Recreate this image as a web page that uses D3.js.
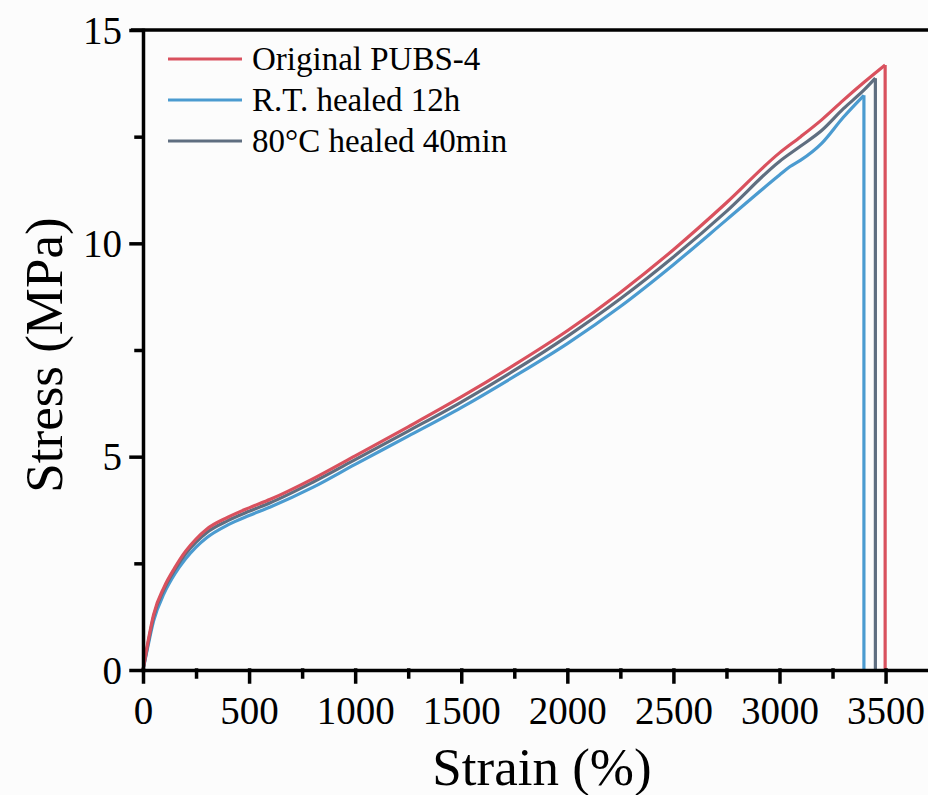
<!DOCTYPE html>
<html>
<head>
<meta charset="utf-8">
<script src="https://cdn.jsdelivr.net/npm/d3@7"></script>
<style>
  body { margin: 0; background: #fcfcfc; }
  svg { display: block; }
  text { font-family: "Liberation Serif", "Times New Roman", serif; fill: #000; }
</style>
</head>
<body>
<div id="chart"></div>
<script>
// Strain (%) sample points
const strainOriginal = [0, 25, 50, 100, 150, 200, 250, 300, 400, 500, 600, 800, 1000, 1250, 1500, 1750, 2000, 2250, 2500, 2750, 3000, 3100, 3200, 3300, 3400, 3498];
const stressOriginal = [0, 0.7, 1.3, 1.95, 2.4, 2.78, 3.07, 3.3, 3.58, 3.8, 4.0, 4.48, 5.02, 5.7, 6.4, 7.15, 7.95, 8.85, 9.85, 10.95, 12.12, 12.5, 12.9, 13.35, 13.78, 14.18];

const strainRT = [0, 25, 50, 100, 150, 200, 250, 300, 400, 500, 600, 800, 1000, 1250, 1500, 1750, 2000, 2250, 2500, 2750, 3000, 3050, 3100, 3200, 3300, 3398];
const stressRT = [0, 0.6, 1.15, 1.8, 2.25, 2.6, 2.88, 3.1, 3.4, 3.62, 3.82, 4.28, 4.82, 5.48, 6.15, 6.88, 7.65, 8.52, 9.5, 10.55, 11.6, 11.8, 11.95, 12.35, 12.95, 13.47];

const strain80C = [0, 25, 50, 100, 150, 200, 250, 300, 400, 500, 600, 800, 1000, 1250, 1500, 1750, 2000, 2250, 2500, 2750, 3000, 3100, 3200, 3300, 3400, 3452];
const stress80C = [0, 0.65, 1.25, 1.9, 2.35, 2.72, 3.0, 3.22, 3.5, 3.72, 3.92, 4.4, 4.93, 5.6, 6.28, 7.02, 7.82, 8.7, 9.68, 10.75, 11.92, 12.28, 12.65, 13.15, 13.6, 13.87];

const seriesNames = ["Original PUBS-4", "R.T. healed 12h", "80\u00B0C healed 40min"];
const seriesColors = ["#d9515e", "#4b9bd0", "#5f6e80"];

const xMajorTicks = [0, 500, 1000, 1500, 2000, 2500, 3000, 3500];
const xMinorTicks = [250, 750, 1250, 1750, 2250, 2750, 3250];
const yMajorTicks = [0, 5, 10, 15];
const yMinorTicks = [2.5, 7.5, 12.5];

const W = 928, H = 795;
const plotLeft = 143, plotRight = 928, plotTop = 30, plotBottom = 670;

const svg = d3.select("#chart").append("svg")
  .attr("width", W)
  .attr("height", H);

const x = d3.scaleLinear().domain([0, 3700]).range([plotLeft, plotRight]);
const y = d3.scaleLinear().domain([0, 15]).range([plotBottom, plotTop]);

// curves
const series = [
  { name: seriesNames[0], color: seriesColors[0], s: strainOriginal, v: stressOriginal },
  { name: seriesNames[1], color: seriesColors[1], s: strainRT, v: stressRT },
  { name: seriesNames[2], color: seriesColors[2], s: strain80C, v: stress80C }
];

const line = d3.line()
  .x(d => x(d[0]))
  .y(d => y(d[1]))
  .curve(d3.curveMonotoneX);

// draw in order so red stays on top like the reference
[1, 2, 0].forEach(i => {
  const sr = series[i];
  const pts = sr.s.map((s, k) => [s, sr.v[k]]);
  svg.append("path")
    .datum(pts)
    .attr("fill", "none")
    .attr("stroke", sr.color)
    .attr("stroke-width", 3.2)
    .attr("stroke-linejoin", "round")
    .attr("d", line);
  // fracture drop
  const last = pts[pts.length - 1];
  svg.append("path")
    .datum([last, [last[0], 0]])
    .attr("fill", "none")
    .attr("stroke", sr.color)
    .attr("stroke-width", 3.2)
    .attr("d", d3.line().x(d => x(d[0])).y(d => y(d[1])));
});

// axes
const axisW = 3.5;
const xAxis = svg.append("g")
  .attr("transform", `translate(0,${plotBottom})`)
  .call(d3.axisBottom(x).tickValues(xMajorTicks).tickFormat(d3.format("d"))
    .tickSize(12).tickSizeOuter(0).tickPadding(14));
svg.append("g")
  .attr("transform", `translate(0,${plotBottom})`)
  .call(d3.axisBottom(x).tickValues(xMinorTicks).tickSize(7).tickSizeOuter(0).tickFormat(""))
  .select(".domain").remove();

const yAxis = svg.append("g")
  .attr("transform", `translate(${plotLeft},0)`)
  .call(d3.axisLeft(y).tickValues(yMajorTicks).tickFormat(d3.format("d"))
    .tickSize(12).tickSizeOuter(0).tickPadding(9));
svg.append("g")
  .attr("transform", `translate(${plotLeft},0)`)
  .call(d3.axisLeft(y).tickValues(yMinorTicks).tickSize(7).tickSizeOuter(0).tickFormat(""))
  .select(".domain").remove();

svg.selectAll(".domain, .tick line")
  .attr("stroke", "#000")
  .attr("stroke-width", axisW)
  .attr("stroke-linecap", "square");

xAxis.selectAll("text")
  .attr("font-family", "Liberation Serif, serif")
  .style("font-size", "39px");
yAxis.selectAll("text")
  .attr("font-family", "Liberation Serif, serif")
  .style("font-size", "39px")
  .attr("dy", "0.34em");

// top frame line
svg.append("line")
  .attr("x1", plotLeft - 12).attr("x2", plotRight)
  .attr("y1", y(15)).attr("y2", y(15))
  .attr("stroke", "#000")
  .attr("stroke-width", axisW);

// axis titles
svg.append("text")
  .attr("x", 542)
  .attr("y", 785)
  .attr("text-anchor", "middle")
  .style("font-size", "53px")
  .text("Strain (%)");

svg.append("text")
  .attr("transform", `translate(62,355) rotate(-90)`)
  .attr("text-anchor", "middle")
  .style("font-size", "53px")
  .text("Stress (MPa)");

// legend
const legend = svg.append("g").attr("transform", "translate(168,59)");
series.forEach((sr, i) => {
  const row = legend.append("g").attr("transform", `translate(0,${i * 41})`);
  row.append("line")
    .attr("x1", 0).attr("x2", 74)
    .attr("y1", 0).attr("y2", 0)
    .attr("stroke", sr.color)
    .attr("stroke-width", 3);
  row.append("text")
    .attr("x", 84)
    .attr("y", 11)
    .style("font-size", "33px")
    .text(sr.name);
});
</script>
</body>
</html>
